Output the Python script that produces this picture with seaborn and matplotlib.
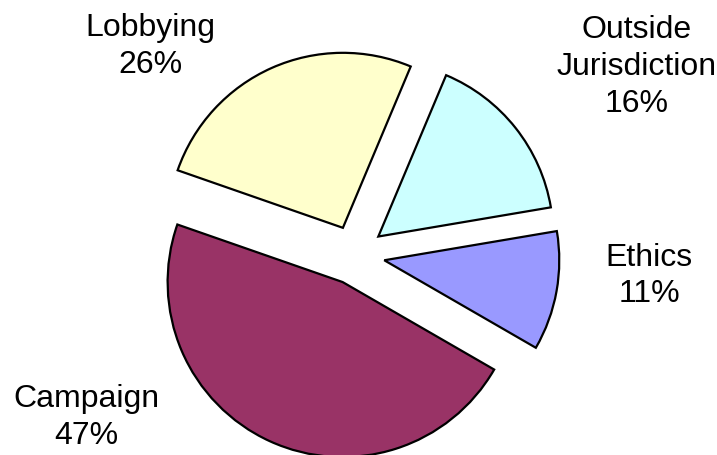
import matplotlib
matplotlib.use("Agg")
import matplotlib.pyplot as plt
import seaborn as sns

# Datos del gráfico (orden antihorario desde la derecha)
categorias = ['Ethics', 'Outside\nJurisdiction', 'Lobbying', 'Campaign']
porcentajes = [11, 16, 26, 47]
colores = ['#9999FF', '#CCFFFF', '#FFFFCC', '#993366']

# Posición de cada etiqueta (unidades del radio del pastel)
pos_etiquetas = [(1.68, -0.12), (1.611, 1.074), (-1.171, 1.189), (-1.537, -0.926)]

sns.set_theme(style="white")
plt.rcParams['font.family'] = ['Liberation Sans', 'DejaVu Sans']

fig = plt.figure(figsize=(7.17, 4.55), dpi=100)
ax = fig.add_axes([0, 0, 1, 1])

etiquetas = [f'{c}\n{p}%' for c, p in zip(categorias, porcentajes)]
wedges, textos = ax.pie(porcentajes, labels=etiquetas, colors=colores,
                        explode=[0.17] * len(porcentajes), startangle=-30,
                        counterclock=True,
                        wedgeprops=dict(edgecolor='black', linewidth=1.6),
                        textprops=dict(fontsize=23, color='black', linespacing=1.3))

for t, (x, y) in zip(textos, pos_etiquetas):
    t.set_position((x, y))
    t.set_ha('center')
    t.set_va('center')

# Escala: radio 1 = 175 px, centro en (355, 255) px
ax.set_aspect('auto')
ax.set_xlim(-355 / 175, (717 - 355) / 175)
ax.set_ylim(-200 / 175, 255 / 175)
ax.axis('off')

plt.savefig('out.png', dpi=100)
plt.close()
